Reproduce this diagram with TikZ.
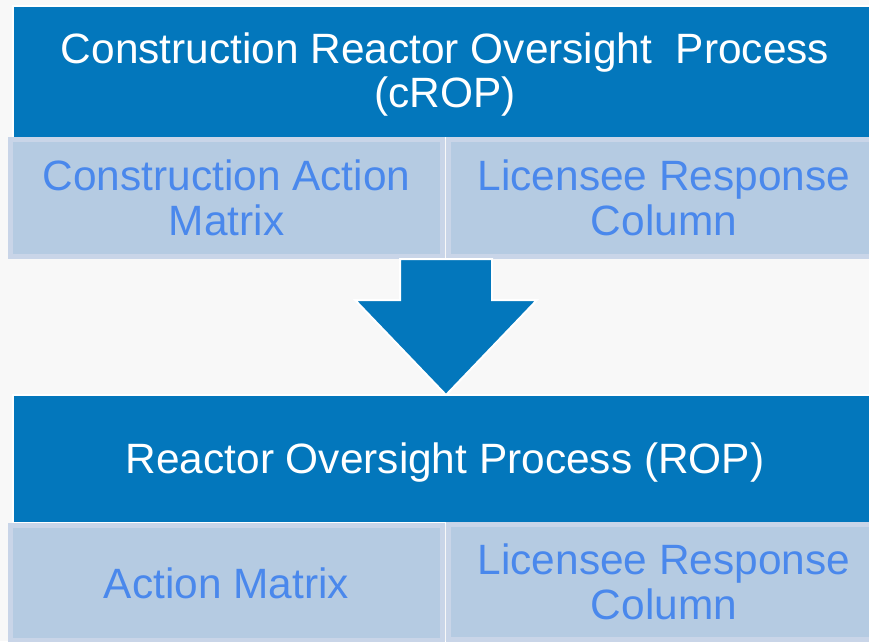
\documentclass[tikz,border=0pt]{standalone}
\usepackage{fontspec}
\setmainfont{Liberation Sans}
\definecolor{bg}{RGB}{248,248,248}
\definecolor{darkblue}{RGB}{3,119,188}
\definecolor{lightfill}{RGB}{181,203,226}
\definecolor{lightedge}{RGB}{201,213,232}
\definecolor{lighttext}{RGB}{74,136,236}
\tikzset{
  headbox/.style={rectangle, fill=darkblue, draw=white, line width=1.5pt, text=white,
    align=center, inner sep=0pt, font=\fontsize{42.4}{44}\selectfont},
  subbox/.style={rectangle, fill=lightfill, draw=lightedge, line width=5pt, text=lighttext,
    align=center, inner sep=0pt, font=\fontsize{42.4}{44.5}\selectfont},
  blockarrow/.style={fill=darkblue, draw=white, line width=2pt, line join=miter}
}
\begin{document}
\begin{tikzpicture}[x=1pt,y=-1pt]
\useasboundingbox (0,0) rectangle (869,641);
\fill[bg] (0,0) rectangle (869,641);
% top group
\node[headbox, minimum width=864, minimum height=132] (crop) at (445,72)
  {\rule{0pt}{35pt}Construction Reactor Oversight\ \ Process\\(cROP)};
\node[subbox, minimum width=432, minimum height=117] (cam) at (226.5,198)
  {Construction Action\\Matrix};
\node[subbox, minimum width=431, minimum height=117] (clrc) at (664,198)
  {Licensee Response\\Column};
% block arrow
\draw[blockarrow] (400,259) -- (492,259) -- (492,300) -- (537,300) -- (446,395)
  -- (355,300) -- (400,300) -- cycle;
% bottom group
\node[headbox, minimum width=864, minimum height=128] (rop) at (445,459)
  {\rule{0pt}{37pt}Reactor Oversight Process (ROP)};
\node[subbox, minimum width=432, minimum height=115] (am) at (226.5,583)
  {Action Matrix};
\node[subbox, minimum width=431, minimum height=115] (lrc) at (664,582)
  {Licensee Response\\Column};
\end{tikzpicture}
\end{document}
